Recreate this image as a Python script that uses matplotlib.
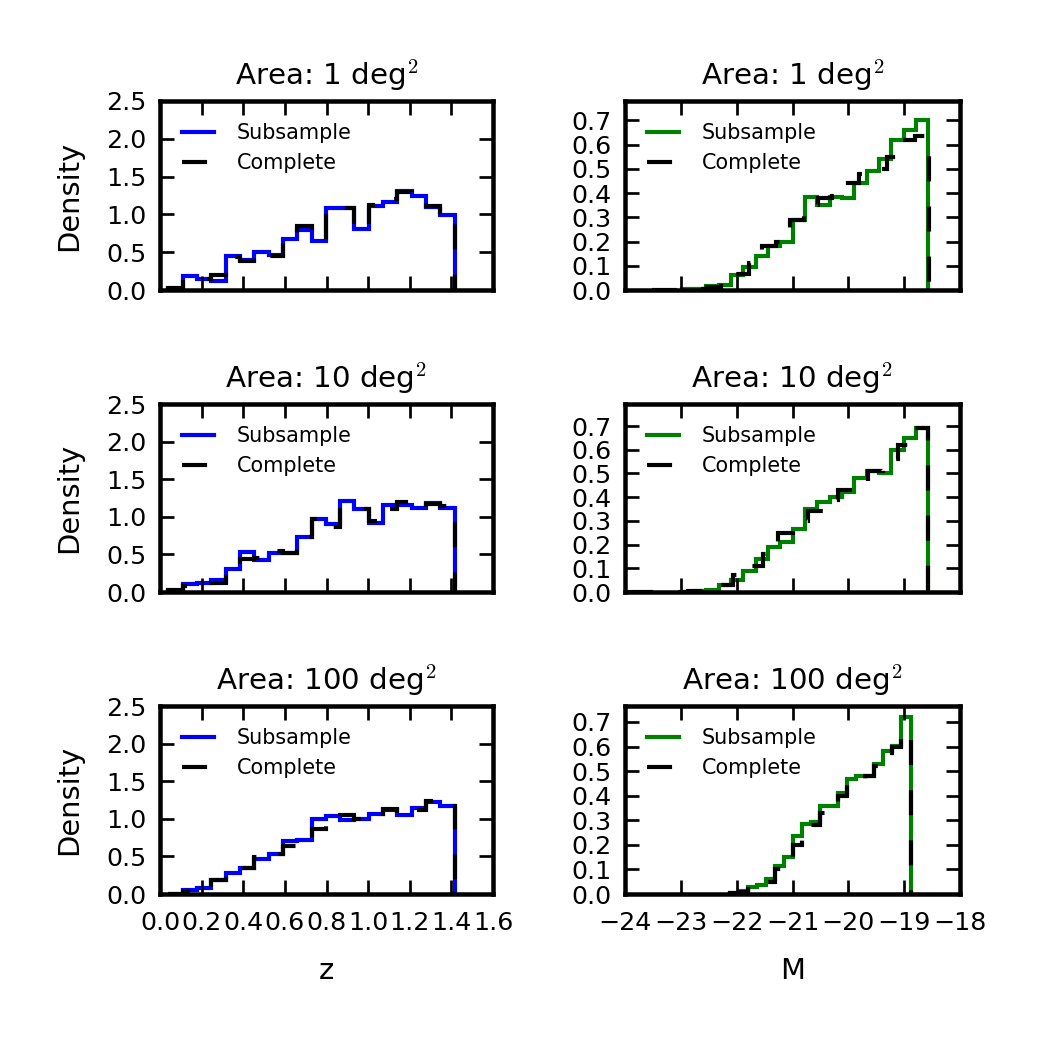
import matplotlib
matplotlib.use("Agg")
import matplotlib.pyplot as plt
from matplotlib.ticker import MultipleLocator, FuncFormatter

plt.rcParams['font.family'] = ['DejaVu Sans']
plt.rcParams['mathtext.fontset'] = 'cm'
plt.rcParams['lines.scale_dashes'] = False

areas = ["1", "10", "100"]
series_labels = ["Subsample", "Complete"]

# redshift histograms (left column)
z_edges = [0.040, 0.109, 0.178, 0.246, 0.315, 0.384, 0.453, 0.522, 0.590, 0.659, 0.728,
           0.797, 0.866, 0.934, 1.003, 1.072, 1.141, 1.210, 1.278, 1.347, 1.416]
z_sub_1 = [0.01, 0.19, 0.14, 0.12, 0.45, 0.40, 0.50, 0.46, 0.68, 0.80, 0.65, 1.09, 1.09, 0.81, 1.11, 1.17, 1.31, 1.25, 1.10, 0.99]
z_all_1 = [0.02, 0.15, 0.15, 0.20, 0.43, 0.39, 0.49, 0.45, 0.69, 0.84, 0.66, 1.02, 1.08, 0.81, 1.13, 1.20, 1.30, 1.25, 1.11, 0.93]
z_sub_10 = [0.01, 0.10, 0.12, 0.155, 0.30, 0.53, 0.43, 0.52, 0.52, 0.73, 0.975, 0.91, 1.205, 1.11, 0.92, 1.16, 1.16, 1.12, 1.18, 1.12]
z_all_10 = [0.02, 0.08, 0.12, 0.12, 0.30, 0.44, 0.45, 0.55, 0.52, 0.73, 0.97, 0.86, 1.12, 1.11, 0.95, 1.11, 1.20, 1.12, 1.17, 1.15]
z_sub_100 = [0.005, 0.05, 0.08, 0.18, 0.28, 0.35, 0.46, 0.53, 0.70, 0.72, 1.00, 1.04, 0.99, 1.00, 1.07, 1.12, 1.05, 1.15, 1.23, 1.17]
z_all_100 = [0.005, 0.04, 0.05, 0.18, 0.28, 0.34, 0.49, 0.53, 0.64, 0.72, 0.87, 1.02, 1.05, 1.00, 1.07, 1.13, 1.07, 1.12, 1.24, 1.17]

# absolute magnitude histograms (right column)
m_edges_sub_1 = [-22.985, -22.764, -22.543, -22.322, -22.101, -21.881, -21.660, -21.439, -21.218, -20.997, -20.776,
                 -20.555, -20.334, -20.113, -19.893, -19.672, -19.451, -19.230, -19.009, -18.788, -18.567]
m_edges_all_1 = [-23.520, -23.272, -23.024, -22.777, -22.529, -22.281, -22.033, -21.785, -21.538, -21.290, -21.042,
                 -20.794, -20.546, -20.299, -20.051, -19.803, -19.555, -19.307, -19.060, -18.812, -18.564]
m_sub_1 = [0.003, 0.005, 0.015, 0.02, 0.06, 0.094, 0.14, 0.18, 0.20, 0.29, 0.385, 0.35, 0.385, 0.38, 0.44, 0.49, 0.54, 0.62, 0.66, 0.70]
m_all_1 = [0.0, 0.001, 0.002, 0.005, 0.012, 0.03, 0.067, 0.11, 0.18, 0.20, 0.29, 0.35, 0.38, 0.39, 0.44, 0.48, 0.50, 0.55, 0.62, 0.635]

m_edges_sub_10 = m_edges_sub_1
m_edges_all_10 = [-23.940, -23.671, -23.403, -23.134, -22.865, -22.597, -22.328, -22.059, -21.790, -21.522, -21.253,
                  -20.984, -20.716, -20.447, -20.178, -19.910, -19.641, -19.372, -19.103, -18.835, -18.566]
m_sub_10 = [0.002, 0.004, 0.01, 0.03, 0.05, 0.09, 0.14, 0.19, 0.21, 0.265, 0.35, 0.38, 0.40, 0.42, 0.48, 0.51, 0.50, 0.60, 0.65, 0.69]
m_all_10 = [0.0, 0.0, 0.0, 0.001, 0.003, 0.006, 0.03, 0.07, 0.11, 0.16, 0.25, 0.30, 0.34, 0.39, 0.43, 0.47, 0.51, 0.56, 0.62, 0.69]

m_edges_100 = [-22.120, -21.958, -21.797, -21.635, -21.473, -21.312, -21.150, -20.988, -20.826, -20.665, -20.503,
               -20.341, -20.180, -20.018, -19.856, -19.694, -19.533, -19.371, -19.209, -19.048, -18.886]
m_sub_100 = [0.003, 0.012, 0.027, 0.035, 0.06, 0.113, 0.15, 0.236, 0.286, 0.293, 0.359, 0.359, 0.41, 0.468, 0.48, 0.48, 0.528, 0.583, 0.604, 0.719]
m_all_100 = [0.003, 0.008, 0.02, 0.034, 0.05, 0.10, 0.13, 0.20, 0.26, 0.28, 0.33, 0.35, 0.40, 0.45, 0.45, 0.48, 0.52, 0.55, 0.60, 0.66]

z_rows = [(z_edges, z_sub_1, z_edges, z_all_1),
          (z_edges, z_sub_10, z_edges, z_all_10),
          (z_edges, z_sub_100, z_edges, z_all_100)]
m_rows = [(m_edges_sub_1, m_sub_1, m_edges_all_1, m_all_1),
          (m_edges_sub_10, m_sub_10, m_edges_all_10, m_all_10),
          (m_edges_100, m_sub_100, m_edges_100, m_all_100)]
m_ytop = [0.78, 0.793, 0.765]

fig = plt.figure(figsize=(8, 8), dpi=129.875)
fig.patch.set_facecolor('white')

W = 1039.0
rows_px = [(101, 290), (404, 592), (706, 894)]
cols_px = [(160, 493), (625, 960)]

dash = (0, (13.9, 13.9))


def fmt1(v, pos):
    return ('%.1f' % v).replace('-', '\u2212')


def fmt0(v, pos):
    return ('%d' % round(v)).replace('-', '\u2212')


for r in range(3):
    for c in range(2):
        x0, x1 = cols_px[c]
        y0, y1 = rows_px[r]
        ax = fig.add_axes([x0 / W, 1 - y1 / W, (x1 - x0) / W, (y1 - y0) / W])
        if c == 0:
            es, vs, ea, va = z_rows[r]
            col = '#0000ff'
        else:
            es, vs, ea, va = m_rows[r]
            col = '#008000'
        ax.stairs(vs, es, baseline=0, fill=False, color=col, linewidth=2.3, label=series_labels[0])
        ax.stairs(va, ea, baseline=0, fill=False, color='k', linewidth=2.3, linestyle=dash,
                  label=series_labels[1])
        if c == 0:
            ax.set_xlim(0, 1.6)
            ax.set_ylim(0, 2.5)
            ax.xaxis.set_major_locator(MultipleLocator(0.2))
            ax.yaxis.set_major_locator(MultipleLocator(0.5))
            ax.set_ylabel('Density', fontsize=16, labelpad=12.5)
            ax.xaxis.set_major_formatter(FuncFormatter(fmt1))
        else:
            ax.set_xlim(-24, -18)
            ax.set_ylim(0, m_ytop[r])
            ax.xaxis.set_major_locator(MultipleLocator(1))
            ax.yaxis.set_major_locator(MultipleLocator(0.1))
            ax.xaxis.set_major_formatter(FuncFormatter(fmt0))
        ax.yaxis.set_major_formatter(FuncFormatter(fmt1))
        ax.tick_params(which='major', direction='in', top=True, right=True,
                       length=8, width=1.5, labelsize=14)
        ax.tick_params(axis='x', pad=9.5)
        ax.tick_params(axis='y', pad=7.5)
        for s in ax.spines.values():
            s.set_linewidth(2.5)
        if r < 2:
            ax.tick_params(labelbottom=False)
        else:
            ax.set_xlabel('z' if c == 0 else 'M', fontsize=16, labelpad=12)
        ax.set_title('Area: %s deg$^2$' % areas[r], fontsize=16.3, pad=9)
        ax.legend(loc='upper left', frameon=False, fontsize=11.5, handlelength=1.55,
                  handletextpad=1.1, labelspacing=0.5, borderaxespad=0.65)

fig.savefig('out.png', dpi=129.875, facecolor='white')
